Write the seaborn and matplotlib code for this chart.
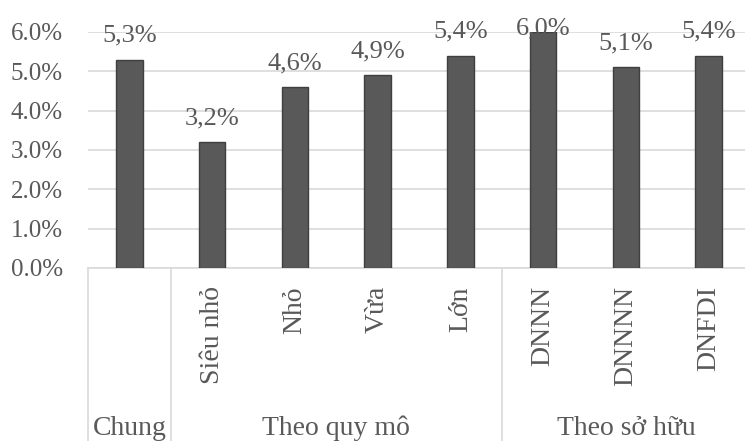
import matplotlib
matplotlib.use("Agg")
import matplotlib.pyplot as plt
import matplotlib.transforms as mtransforms
import seaborn as sns
import pandas as pd

categories = ["Chung", "Siêu nhỏ", "Nhỏ", "Vừa", "Lớn", "DNNN", "DNNNN", "DNFDI"]
tick_labels = ["", "Siêu nhỏ", "Nhỏ", "Vừa", "Lớn", "DNNN", "DNNNN", "DNFDI"]
values = [5.3, 3.2, 4.6, 4.9, 5.4, 6.0, 5.1, 5.4]
value_labels = ["5,3%", "3,2%", "4,6%", "4,9%", "5,4%", "6,0%", "5,1%", "5,4%"]
groups = ["Chung", "Theo quy mô", "Theo sở hữu"]
group_members = [[0], [1, 2, 3, 4], [5, 6, 7]]
y_ticks = [0, 1, 2, 3, 4, 5, 6]
y_tick_labels = ["0.0%", "1.0%", "2.0%", "3.0%", "4.0%", "5.0%", "6.0%"]

sns.set_style("white")
plt.rcParams["font.family"] = ["Liberation Serif", "DejaVu Serif"]
text_color = "#595959"

df = pd.DataFrame({"cat": categories, "val": values})

fig = plt.figure(figsize=(7.45, 4.41), dpi=100)
ax = fig.add_axes([88 / 745, 173 / 441, 662 / 745, 236 / 441])

sns.barplot(data=df, x="cat", y="val", order=categories, color="#595959",
            width=0.32, edgecolor="#3f3f3f", linewidth=1.0, saturation=1, ax=ax, zorder=3)

ax.set_ylim(0, 6)
ax.set_xlim(-0.5, len(categories) - 0.5)
ax.set_yticks(y_ticks)
ax.set_yticklabels(y_tick_labels, fontsize=18, color=text_color)
ax.yaxis.grid(True, color="#d9d9d9", linewidth=1.2, zorder=0)
ax.set_axisbelow(True)
for s in ["top", "right", "left"]:
    ax.spines[s].set_visible(False)
ax.spines["bottom"].set_color("#d9d9d9")
ax.spines["bottom"].set_linewidth(1.2)
ax.tick_params(axis="y", length=0, pad=18)
ax.tick_params(axis="x", length=0, pad=13)
ax.set_xticks(range(len(categories)))
ax.set_xticklabels(tick_labels, rotation=90, fontsize=20, color=text_color, va="top")
ax.set_xlabel("")
ax.set_ylabel("")

for i, (v, lab) in enumerate(zip(values, value_labels)):
    ax.text(i, min(v + 0.45, 5.93), lab, ha="center", va="baseline",
            fontsize=19, color=text_color, zorder=5)

trans = mtransforms.blended_transform_factory(ax.transData, ax.transAxes)
bottom_axes = -173 / 236
for name, members in zip(groups, group_members):
    xc = (members[0] + members[-1]) / 2
    ax.text(xc, -167 / 236, name, transform=trans, ha="center", va="baseline",
            fontsize=20, color=text_color)

for xs in [-0.5, 0.5, 4.5]:
    ax.plot([xs, xs], [0, bottom_axes], transform=trans, color="#d9d9d9",
            linewidth=1.2, clip_on=False)

fig.savefig("out.png", dpi=100)
